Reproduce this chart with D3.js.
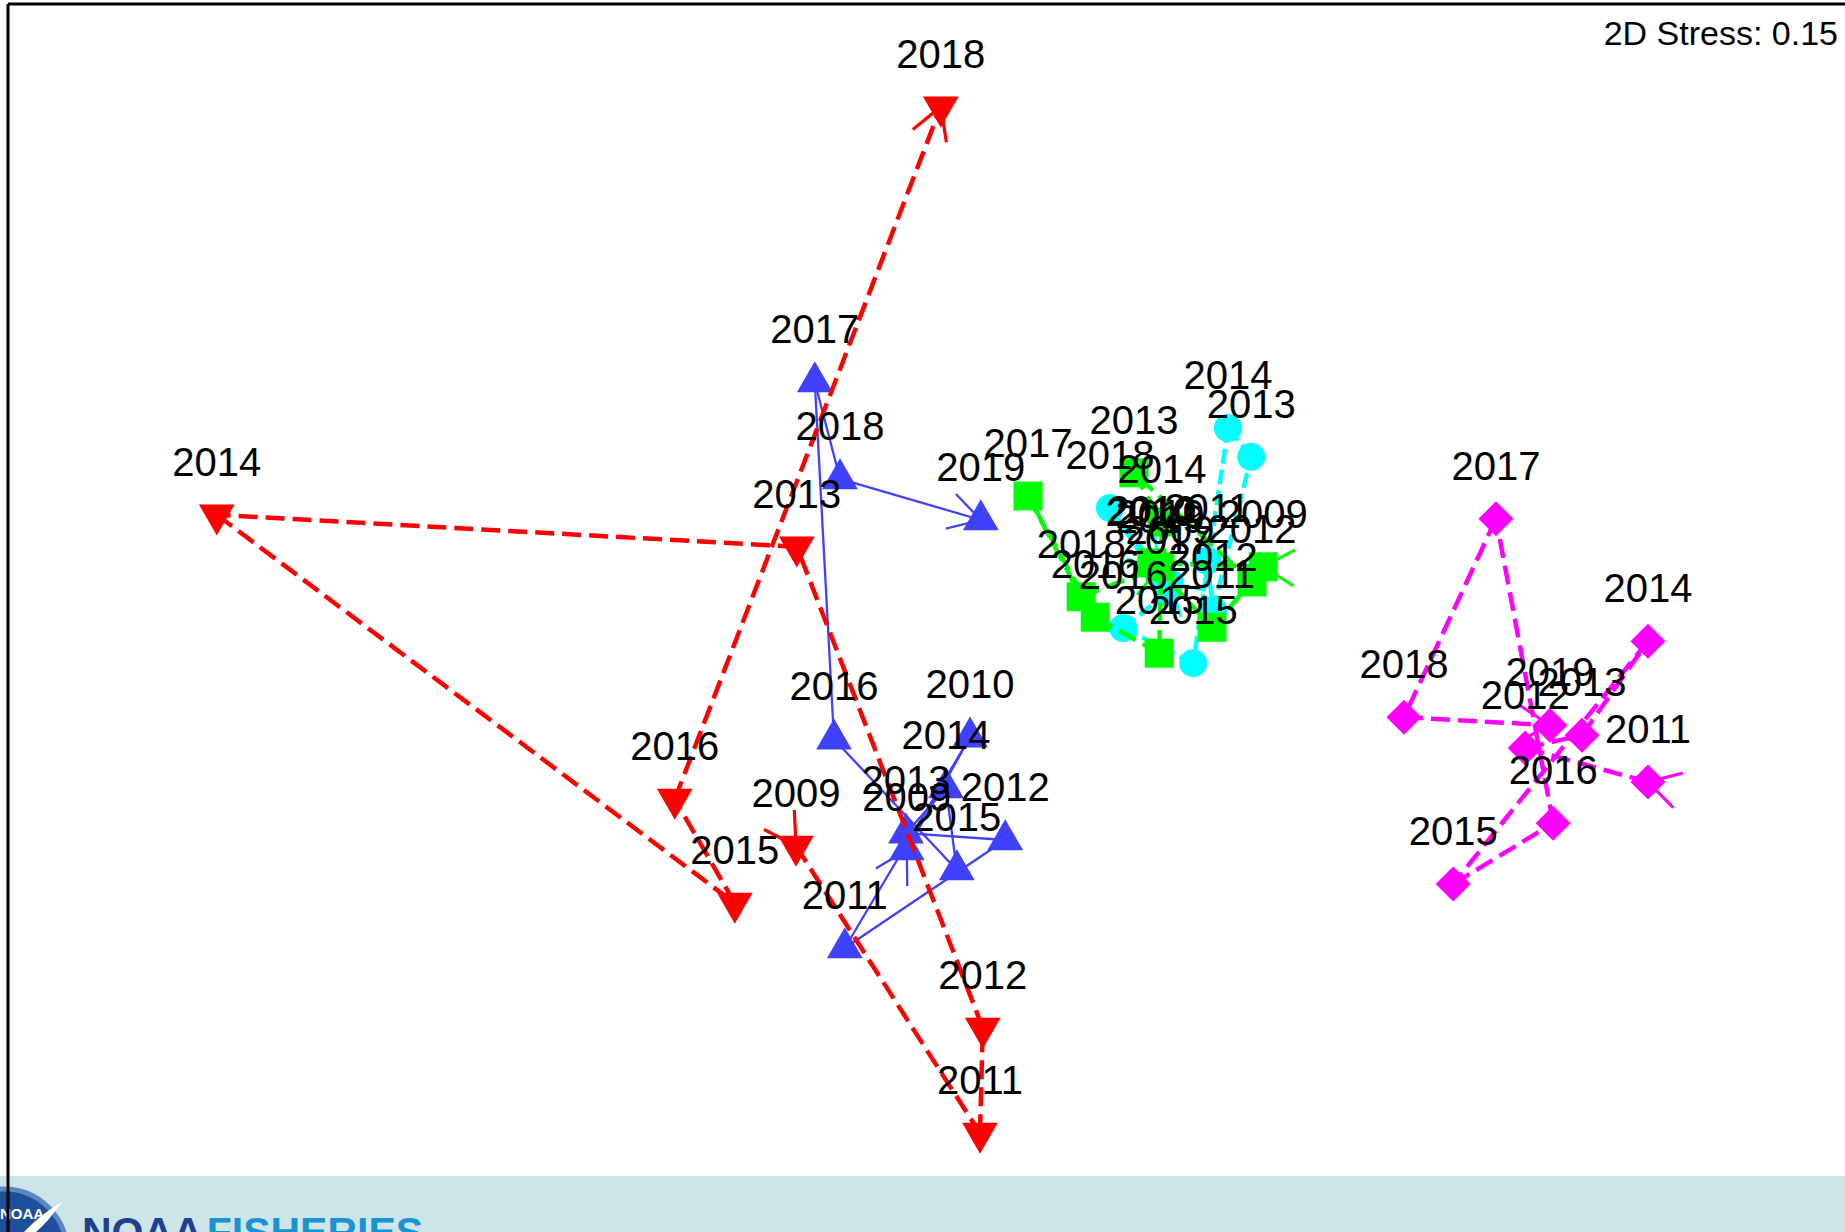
<!DOCTYPE html>
<html>
<head>
<meta charset="utf-8">
<script src="https://cdn.jsdelivr.net/npm/d3@7"></script>
<style>
  html, body { margin: 0; padding: 0; background: #fff; overflow: hidden; }
  svg { display: block; }
  text { font-family: "Liberation Sans", Arial, sans-serif; }
</style>
</head>
<body>
<div id="chart-area"></div>
<script>
var width = 1845;
var height = 1232;

// NMDS coordinates per group, years in trajectory order
var redYears = [2009, 2011, 2012, 2013, 2014, 2015, 2016, 2018];
var redX = [-0.510, -0.050, -0.043, -0.508, -1.958, -0.663, -0.813, -0.148];
var redY = [-0.615, -1.333, -1.070, 0.133, 0.213, -0.758, -0.498, 1.233];

var blueYears = [2009, 2010, 2011, 2012, 2013, 2014, 2015, 2016, 2017, 2018, 2019];
var blueX = [-0.233, -0.075, -0.388, 0.013, -0.235, -0.135, -0.108, -0.415, -0.463, -0.400, -0.048];
var blueY = [-0.625, -0.343, -0.870, -0.600, -0.583, -0.470, -0.675, -0.348, 0.545, 0.303, 0.200];

var greenYears = [2009, 2010, 2011, 2012, 2013, 2014, 2015, 2016, 2017, 2018, 2019];
var greenX = [0.658, 0.380, 0.530, 0.630, 0.335, 0.405, 0.398, 0.238, 0.070, 0.203, 0.400];
var greenY = [0.083, 0.093, -0.068, 0.045, 0.318, 0.195, -0.133, -0.043, 0.260, 0.008, 0.083];

var cyanYears = [2009, 2010, 2011, 2012, 2013, 2014, 2015, 2016, 2017, 2018, 2019];
var cyanX = [0.425, 0.375, 0.518, 0.533, 0.628, 0.570, 0.483, 0.308, 0.418, 0.275, 0.400];
var cyanY = [0.043, 0.088, 0.098, -0.025, 0.358, 0.430, -0.158, -0.070, 0.018, 0.230, 0.070];

var magentaYears = [2011, 2012, 2013, 2014, 2015, 2016, 2017, 2018, 2019];
var magentaX = [1.620, 1.313, 1.455, 1.620, 1.133, 1.383, 1.240, 1.010, 1.375];
var magentaY = [-0.455, -0.370, -0.338, -0.103, -0.710, -0.558, 0.203, -0.293, -0.313];

var stressLabel = "2D Stress: 0.15";

function zip(ys, xs, vs) {
	return ys.map(function(yr, i) { return {year: yr, x: xs[i], y: vs[i]}; });
}

var series = [
	{name: "blue", pts: zip(blueYears, blueX, blueY), color: "#4040ff", shape: "up", dash: null, lw: 2.3, aw: 2.3},
	{name: "red", pts: zip(redYears, redX, redY), color: "#ff0000", shape: "down", dash: "19,8", lw: 4.5, aw: 3.2},
	{name: "cyan", pts: zip(cyanYears, cyanX, cyanY), color: "#00ffff", shape: "circle", dash: "15,6", lw: 4.5, aw: 3},
	{name: "green", pts: zip(greenYears, greenX, greenY), color: "#00ff00", shape: "square", dash: "19,8", lw: 4.5, aw: 3},
	{name: "magenta", pts: zip(magentaYears, magentaX, magentaY), color: "#ff00ff", shape: "diamond", dash: "19,8", lw: 4.5, aw: 3}
];

var x = d3.scaleLinear().domain([-1, 1]).range([600, 1400]);
var y = d3.scaleLinear().domain([-1, 1]).range([1000, 200]);

var svg = d3.select("#chart-area").append("svg")
	.attr("width", width)
	.attr("height", height);

var symbols = {
	up: {type: d3.symbolTriangle, size: 554, rot: 0},
	down: {type: d3.symbolTriangle, size: 554, rot: 180},
	circle: {type: d3.symbolCircle, size: 616, rot: 0},
	square: {type: d3.symbolSquare, size: 841, rot: 0},
	diamond: {type: d3.symbolSquare, size: 612, rot: 45}
};

var armLen = 36;
var ang = Math.PI / 6;

function arms(px, py, dx, dy) {
	var l = Math.sqrt(dx * dx + dy * dy);
	dx /= l; dy /= l;
	var out = [];
	[ang, -ang].forEach(function(a) {
		var c = Math.cos(a), s = Math.sin(a);
		out.push([px, py, px + armLen * (dx * c - dy * s), py + armLen * (dx * s + dy * c)]);
	});
	return out;
}

series.forEach(function(s) {
	var g = svg.append("g").attr("class", "series " + s.name);
	var p = s.pts.map(function(d) { return [x(d.x), y(d.y)]; });

	var segs = d3.pairs(p);
	g.selectAll("line.seg").data(segs).enter().append("line")
		.attr("class", "seg")
		.attr("x1", function(d) { return d[0][0]; })
		.attr("y1", function(d) { return d[0][1]; })
		.attr("x2", function(d) { return d[1][0]; })
		.attr("y2", function(d) { return d[1][1]; })
		.attr("stroke", s.color)
		.attr("stroke-width", s.lw)
		.attr("stroke-dasharray", s.dash);

	// heads only at the two ends: splayed out at the first year, pointing in at the last
	var n = p.length;
	var heads = arms(p[0][0], p[0][1], p[0][0] - p[1][0], p[0][1] - p[1][1])
		.concat(arms(p[n - 1][0], p[n - 1][1], p[n - 2][0] - p[n - 1][0], p[n - 2][1] - p[n - 1][1]));
	g.selectAll("line.arm").data(heads).enter().append("line")
		.attr("class", "arm")
		.attr("x1", function(d) { return d[0]; })
		.attr("y1", function(d) { return d[1]; })
		.attr("x2", function(d) { return d[2]; })
		.attr("y2", function(d) { return d[3]; })
		.attr("stroke", s.color)
		.attr("stroke-width", s.aw);

	var sym = symbols[s.shape];
	g.selectAll("path.mark").data(s.pts).enter().append("path")
		.attr("class", "mark")
		.attr("d", d3.symbol().type(sym.type).size(sym.size))
		.attr("transform", function(d) { return "translate(" + x(d.x) + "," + y(d.y) + ") rotate(" + sym.rot + ")"; })
		.attr("fill", s.color);
});

// year labels on top of everything
series.forEach(function(s) {
	svg.append("g").selectAll("text").data(s.pts).enter().append("text")
		.attr("x", function(d) { return x(d.x); })
		.attr("y", function(d) { return y(d.y) - 39; })
		.attr("text-anchor", "middle")
		.attr("font-size", "40px")
		.attr("fill", "#000")
		.text(function(d) { return d.year; });
});

svg.append("text")
	.attr("x", 1838)
	.attr("y", 45)
	.attr("text-anchor", "end")
	.attr("font-size", "34px")
	.attr("fill", "#000")
	.text(stressLabel);

// footer band with logo
var foot = svg.append("g");
foot.append("rect")
	.attr("x", 0).attr("y", 1176)
	.attr("width", width).attr("height", height - 1176)
	.attr("fill", "#cde5e8");
foot.append("circle")
	.attr("cx", 4).attr("cy", 1252).attr("r", 63)
	.attr("fill", "#1d4f9a")
	.attr("stroke", "#5a86c2")
	.attr("stroke-width", 5);
foot.append("text")
	.attr("x", 0).attr("y", 1219)
	.attr("font-size", "15px").attr("font-weight", "bold")
	.attr("fill", "#fff")
	.text("NOAA");
foot.append("path")
	.attr("d", "M24,1232 Q42,1213 62,1202 Q48,1222 36,1232 Z")
	.attr("fill", "#fff");
var brand = foot.append("text")
	.attr("x", 82).attr("y", 1246)
	.attr("font-size", "41px").attr("font-weight", "bold");
brand.append("tspan").attr("fill", "#1f3f8f").text("NOAA");
brand.append("tspan").attr("fill", "#1a93d2").attr("dx", 4).text("FISHERIES");

// frame edges
svg.append("line")
	.attr("x1", 8).attr("y1", 4).attr("x2", width).attr("y2", 4)
	.attr("stroke", "#000").attr("stroke-width", 3);
svg.append("line")
	.attr("x1", 8).attr("y1", 4).attr("x2", 8).attr("y2", height)
	.attr("stroke", "#000").attr("stroke-width", 3);
</script>
</body>
</html>
